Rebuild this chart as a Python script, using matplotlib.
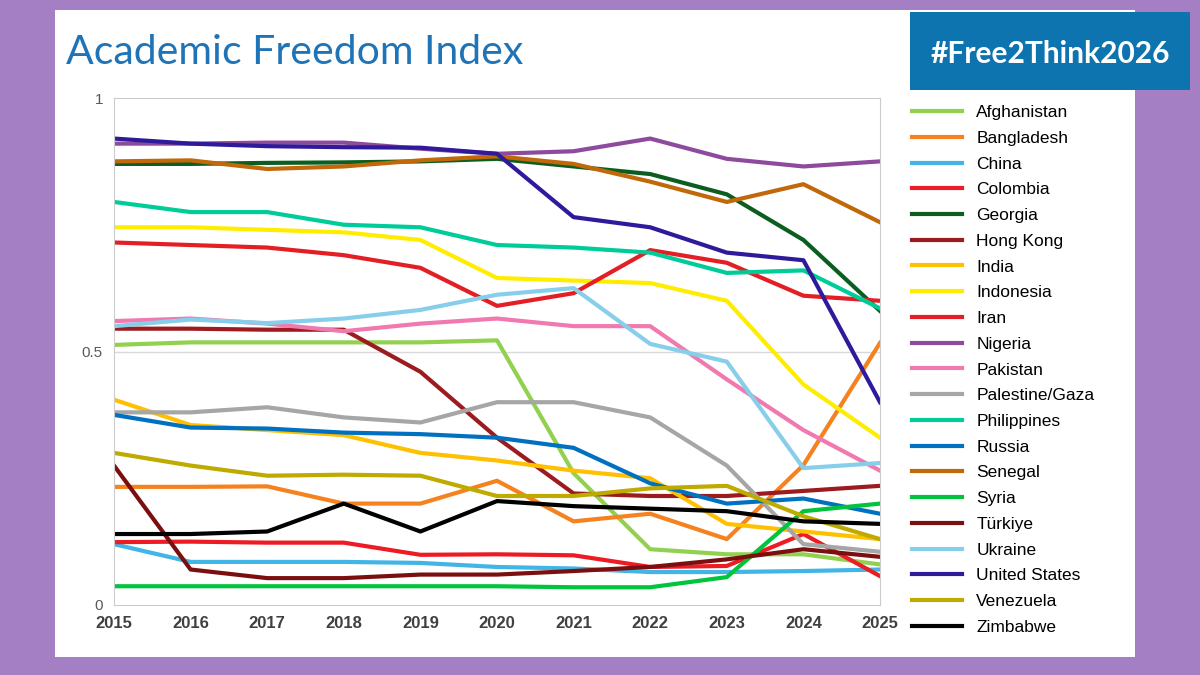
import matplotlib.pyplot as plt
from matplotlib.patches import Rectangle

years = list(range(2015, 2026))

countries = ["Afghanistan", "Bangladesh", "China", "Colombia", "Georgia", "Hong Kong",
             "India", "Indonesia", "Iran", "Nigeria", "Pakistan", "Palestine/Gaza",
             "Philippines", "Russia", "Senegal", "Syria", "Türkiye", "Ukraine",
             "United States", "Venezuela", "Zimbabwe"]

afghanistan = [.513, .518, .518, .518, .518, .522, .26, .11, .10, .10, .08]
bangladesh = [.233, .233, .234, .20, .20, .245, .165, .18, .13, .276, .517]
china = [.12, .085, .085, .085, .083, .075, .072, .065, .065, .067, .07]
colombia = [.124, .125, .123, .123, .099, .10, .098, .075, .077, .14, .057]
georgia = [.87, .87, .872, .873, .875, .88, .865, .85, .81, .72, .58]
hong_kong = [.545, .545, .543, .543, .46, .33, .22, .215, .215, .225, .235]
india = [.405, .355, .345, .335, .30, .285, .265, .25, .16, .145, .13]
indonesia = [.745, .745, .74, .735, .72, .645, .64, .635, .60, .435, .33]
iran = [.715, .71, .705, .69, .665, .59, .615, .70, .675, .61, .60]
nigeria = [.91, .91, .912, .912, .90, .89, .895, .92, .88, .865, .875]
pakistan = [.56, .565, .555, .54, .555, .565, .55, .55, .445, .345, .265]
palestine = [.38, .38, .39, .37, .36, .40, .40, .37, .275, .12, .105]
philippines = [.795, .775, .775, .75, .745, .71, .705, .695, .655, .66, .585]
russia = [.375, .35, .348, .34, .337, .33, .31, .24, .20, .21, .18]
senegal = [.875, .877, .86, .865, .877, .885, .87, .835, .795, .83, .755]
syria = [.037, .037, .037, .037, .037, .037, .035, .035, .055, .185, .20]
turkiye = [.275, .07, .053, .053, .06, .06, .067, .075, .09, .11, .095]
ukraine = [.55, .563, .556, .565, .582, .612, .625, .515, .48, .27, .28]
united_states = [.92, .91, .905, .903, .902, .89, .765, .745, .695, .68, .40]
venezuela = [.30, .275, .255, .257, .255, .215, .215, .23, .235, .175, .13]
zimbabwe = [.14, .14, .145, .20, .145, .205, .195, .19, .185, .165, .16]

series = [afghanistan, bangladesh, china, colombia, georgia, hong_kong, india, indonesia,
          iran, nigeria, pakistan, palestine, philippines, russia, senegal, syria,
          turkiye, ukraine, united_states, venezuela, zimbabwe]

colors = ["#92D050", "#F5821F", "#41B6E6", "#ED1C24", "#0B5E1F", "#9B1B1F", "#FFC000",
          "#FFED00", "#E31E24", "#8E4B9E", "#F07AB0", "#A6A6A6", "#00CC99", "#0070C0",
          "#C0680A", "#00C43C", "#7B0F0F", "#87CEEB", "#2E1A9A", "#BFAA00", "#000000"]

plt.rcParams['font.family'] = ['Liberation Sans', 'DejaVu Sans']

fig = plt.figure(figsize=(12, 6.75), dpi=100)
fig.patch.set_facecolor("#A57FC4")
# white panel
fig.patches.append(Rectangle((55 / 1200, 1 - 657 / 675), 1080 / 1200, 647 / 675,
                             transform=fig.transFigure, facecolor="white", zorder=-5))
# badge
fig.patches.append(Rectangle((910 / 1200, 1 - 90 / 675), 280 / 1200, 78 / 675,
                             transform=fig.transFigure, facecolor="#0E74B0", zorder=1))
fig.text(1050 / 1200, 1 - 54 / 675, "#Free2Think2026", color="white", fontsize=21.5,
         fontweight="bold", ha="center", va="center", family="Lato", zorder=2)
fig.text(66 / 1200, 1 - 52 / 675, "Academic Freedom Index", color="#1F73B7", fontsize=29.5,
         ha="left", va="center", family="Lato")

ax = fig.add_axes([114 / 1200, 70 / 675, 766 / 1200, 507 / 675])
for name, vals, c in zip(countries, series, colors):
    ax.plot(years, vals, color=c, lw=3, label=name)

ax.set_xlim(2015, 2025)
ax.set_ylim(0, 1)
ax.set_xticks(years)
ax.set_xticklabels([str(y) for y in years], fontweight="bold", fontsize=12, color="#404040")
ax.set_yticks([0, 0.5, 1])
ax.set_yticklabels(["0", "0.5", "1"], fontsize=11, color="#595959")
ax.tick_params(length=0, pad=8)
ax.axhline(0.5, color="#D9D9D9", lw=1, zorder=0)
for s in ax.spines.values():
    s.set_color("#CCCCCC")

fig.legend(loc="upper left", bbox_to_anchor=(905 / 1200, 1 - 98 / 675), frameon=False,
           fontsize=12.5, labelspacing=0.61, handlelength=2.9, handletextpad=0.8,
           borderaxespad=0)

fig.savefig("out.png", dpi=100)
